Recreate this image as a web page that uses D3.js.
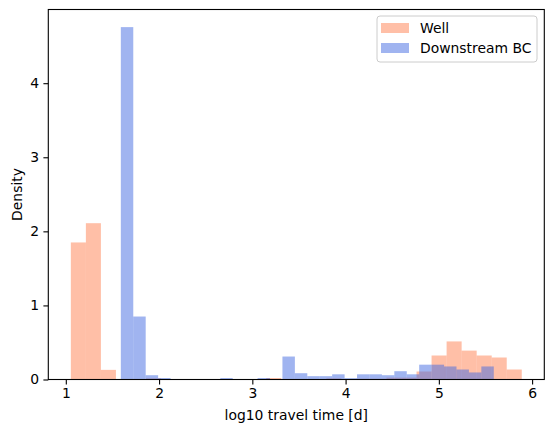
<!DOCTYPE html>
<html>
<head>
<meta charset="utf-8">
<script src="https://cdn.jsdelivr.net/npm/d3@7"></script>
<style>
  body { margin: 0; background: #fff; }
  svg { font-family: "DejaVu Sans", sans-serif; }
</style>
</head>
<body>
<div class="chart-container"></div>
<script>
// histogram bins (30 bins per series), range in log10 days
var wellRange = [1.054, 5.889];
var downRange = [1.590, 5.589];

// density per bin
var wellDensity = [1.85, 2.11, 0.13, 0, 0, 0.015, 0, 0, 0, 0,
  0, 0, 0, 0.02, 0, 0, 0, 0.015, 0, 0.01,
  0.01, 0.025, 0.025, 0.108, 0.324, 0.514, 0.39, 0.324, 0.297, 0.135];
var downDensity = [4.757, 0.85, 0.058, 0.02, 0, 0, 0, 0, 0.02, 0,
  0, 0.02, 0, 0.31, 0.085, 0.045, 0.045, 0.07, 0.018, 0.07,
  0.07, 0.058, 0.112, 0.07, 0.2, 0.2, 0.176, 0.135, 0.095, 0.176];

var seriesNames = ["Well", "Downstream BC"];
var seriesColors = ["coral", "royalblue"];
var xTicks = [1, 2, 3, 4, 5, 6];
var yTicks = [0, 1, 2, 3, 4];

var margin = {top: 9.5, right: 9.7, bottom: 52.5, left: 48.3},
  width = 554 - margin.left - margin.right,
  height = 432 - margin.top - margin.bottom;

function toBins(range, values) {
  var w = (range[1] - range[0]) / values.length;
  return values.map(function(v, i) {
    return {x0: range[0] + i * w, x1: range[0] + (i + 1) * w, y: v};
  });
}

var series = [toBins(wellRange, wellDensity), toBins(downRange, downDensity)];

var xMin = d3.min(series, function(s) { return s[0].x0; });
var xMax = d3.max(series, function(s) { return s[s.length - 1].x1; });
var pad = 0.05 * (xMax - xMin);
var yMax = d3.max(series, function(s) { return d3.max(s, function(d) { return d.y; }); });

var x = d3.scaleLinear().domain([xMin - pad, xMax + pad]).range([0, width]);
var y = d3.scaleLinear().domain([0, yMax * 1.05]).range([height, 0]);

var svg = d3.select("div.chart-container")
  .append("svg")
  .attr("width", 554)
  .attr("height", 432);

var chart = svg.append("g")
  .attr("transform", "translate(" + margin.left + "," + margin.top + ")");

// bars
series.forEach(function(bins, k) {
  chart.append("g")
    .selectAll("rect")
    .data(bins.filter(function(d) { return d.y > 0; }))
    .enter()
    .append("rect")
    .attr("x", function(d) { return x(d.x0); })
    .attr("width", function(d) { return x(d.x1) - x(d.x0); })
    .attr("y", function(d) { return y(d.y); })
    .attr("height", function(d) { return height - y(d.y); })
    .attr("fill", seriesColors[k])
    .attr("fill-opacity", 0.5);
});

// axes
var xAxis = chart.append("g")
  .attr("transform", "translate(0," + height + ")")
  .call(d3.axisBottom(x).tickValues(xTicks).tickSize(4.9).tickPadding(4.2).tickFormat(d3.format("d")));
var yAxis = chart.append("g")
  .call(d3.axisLeft(y).tickValues(yTicks).tickSize(4.9).tickPadding(4.2).tickFormat(d3.format("d")));

[xAxis, yAxis].forEach(function(a) {
  a.select(".domain").remove();
  a.selectAll("line").attr("stroke", "#000").attr("stroke-width", 1.1);
  a.selectAll("text").attr("fill", "#000").attr("font-size", "13.9px")
    .attr("font-family", "DejaVu Sans");
});

// frame
chart.append("rect")
  .attr("width", width)
  .attr("height", height)
  .attr("fill", "none")
  .attr("stroke", "#000")
  .attr("stroke-width", 1.1);

// axis labels
svg.append("text")
  .attr("x", margin.left + width / 2)
  .attr("y", 420)
  .attr("text-anchor", "middle")
  .attr("font-size", "13.9px")
  .text("log10 travel time [d]");
svg.append("text")
  .attr("transform", "translate(22," + (margin.top + height / 2) + ") rotate(-90)")
  .attr("text-anchor", "middle")
  .attr("font-size", "13.9px")
  .text("Density");

// legend
var legend = svg.append("g").attr("transform", "translate(377,16)");
legend.append("rect")
  .attr("width", 160)
  .attr("height", 46)
  .attr("rx", 3)
  .attr("fill", "#fff")
  .attr("fill-opacity", 0.8)
  .attr("stroke", "#ccc")
  .attr("stroke-width", 1);
seriesNames.forEach(function(name, i) {
  legend.append("rect")
    .attr("x", 4)
    .attr("y", 7 + i * 20)
    .attr("width", 28)
    .attr("height", 10)
    .attr("fill", seriesColors[i])
    .attr("fill-opacity", 0.5);
  legend.append("text")
    .attr("x", 43)
    .attr("y", 17 + i * 20)
    .attr("font-size", "13.9px")
    .text(name);
});
</script>
</body>
</html>
